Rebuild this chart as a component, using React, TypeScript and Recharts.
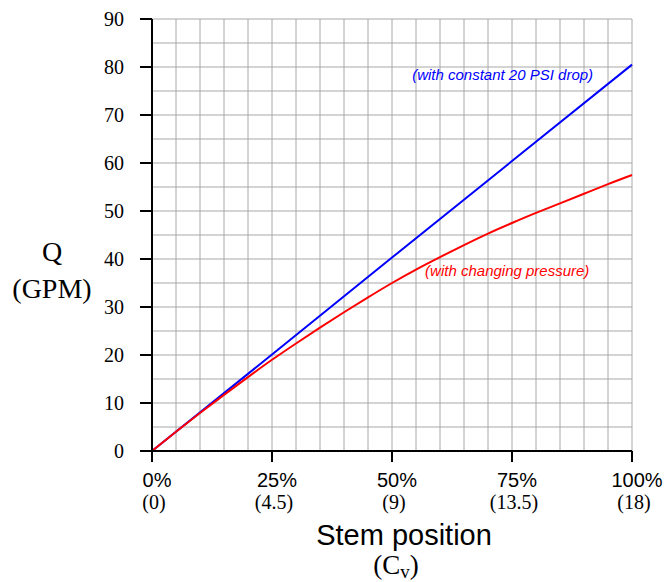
import { LineChart, Line, XAxis, YAxis, CartesianGrid, ReferenceDot } from 'recharts';

// stem position in percent, flow in GPM
const stemPct = [0, 5, 10, 15, 20, 25, 30, 35, 40, 45, 50, 55, 60, 65, 70, 75, 80, 85, 90, 95, 100];
const changingQ = [0, 4.0, 7.9, 11.7, 15.4, 19.0, 22.4, 25.7, 28.9, 32.0, 35.0, 37.8, 40.4, 42.9, 45.3, 47.5, 49.6, 51.6, 53.6, 55.6, 57.5];
const constantPct = [0, 25, 50, 75, 100];
const constantQ = [0, 20.1, 40.3, 60.4, 80.5];

const xTicks = [0, 5, 10, 15, 20, 25, 30, 35, 40, 45, 50, 55, 60, 65, 70, 75, 80, 85, 90, 95, 100];
const xMajor = [0, 25, 50, 75, 100];
const pctLabels = ['0%', '25%', '50%', '75%', '100%'];
const cvLabels = ['(0)', '(4.5)', '(9)', '(13.5)', '(18)'];
const yTicks = [0, 5, 10, 15, 20, 25, 30, 35, 40, 45, 50, 55, 60, 65, 70, 75, 80, 85, 90];
const yMajor = [0, 10, 20, 30, 40, 50, 60, 70, 80, 90];

const changingData = stemPct.map((x, i) => ({ x, q: changingQ[i] }));
const constantData = constantPct.map((x, i) => ({ x, q: constantQ[i] }));

const SANS = '"Liberation Sans", Arial, sans-serif';
const SERIF = '"Liberation Serif", "Times New Roman", serif';

function XTick(props: any) {
    const { x, y, payload } = props;
    const i = xMajor.indexOf(payload.value);
    if (i < 0) return <g />;
    return (
        <g>
            <line x1={x} x2={x} y1={y} y2={y + 11} stroke="#000" strokeWidth={2} />
            <text x={x + 5} y={y + 36} textAnchor="middle" fontFamily={SANS} fontSize={20} fill="#000">
                {pctLabels[i]}
            </text>
            <text x={x + 2} y={y + 58} textAnchor="middle" fontFamily={SERIF} fontSize={20} fill="#000">
                {cvLabels[i]}
            </text>
        </g>
    );
}

function YTick(props: any) {
    const { x, y, payload } = props;
    if (!yMajor.includes(payload.value)) return <g />;
    return (
        <g>
            <line x1={x - 12} x2={x} y1={y} y2={y} stroke="#000" strokeWidth={2} />
            <text x={x - 28} y={y + 7} textAnchor="end" fontFamily={SERIF} fontSize={20} fill="#000">
                {payload.value}
            </text>
        </g>
    );
}

function YTitle() {
    return (
        <g>
            <text x={52} y={261} textAnchor="middle" fontFamily={SERIF} fontSize={28} fill="#000">Q</text>
            <text x={52} y={298} textAnchor="middle" fontFamily={SERIF} fontSize={28} fill="#000">(GPM)</text>
        </g>
    );
}

function XTitle() {
    return (
        <g>
            <text x={404} y={545} textAnchor="middle" fontFamily={SANS} fontSize={29} fill="#000">Stem position</text>
            <text x={396} y={574} textAnchor="middle" fontFamily={SERIF} fontSize={27} fill="#000">
                (C<tspan fontSize={19} dy={4}>v</tspan><tspan dy={-4}>)</tspan>
            </text>
        </g>
    );
}

export default function App() {
    return (
        <div style={{ position: 'absolute', left: 0, top: 0, width: 665, height: 582, background: '#fff' }}>
            <LineChart width={665} height={582} margin={{ top: 19, right: 33, left: 0, bottom: 0 }}>
                <CartesianGrid stroke="#a8a8a8" strokeWidth={1} />
                <XAxis
                    dataKey="x"
                    type="number"
                    domain={[0, 100]}
                    ticks={xTicks}
                    interval={0}
                    height={131}
                    tickSize={0}
                    tickMargin={0}
                    tickLine={false}
                    axisLine={{ stroke: '#000', strokeWidth: 2 }}
                    tick={<XTick />}
                    label={<XTitle />}
                />
                <YAxis
                    type="number"
                    domain={[0, 90]}
                    ticks={yTicks}
                    interval={0}
                    width={152}
                    tickSize={0}
                    tickMargin={0}
                    tickLine={false}
                    axisLine={{ stroke: '#000', strokeWidth: 2 }}
                    tick={<YTick />}
                    label={<YTitle />}
                />
                <Line data={constantData} dataKey="q" type="linear" stroke="#0000ff" strokeWidth={2} dot={false} isAnimationActive={false} />
                <Line data={changingData} dataKey="q" type="natural" stroke="#ff0000" strokeWidth={2} dot={false} isAnimationActive={false} />
                <ReferenceDot
                    x={54.2}
                    y={78.3}
                    r={0}
                    fill="none"
                    stroke="none"
                    ifOverflow="visible"
                    label={{ value: '(with constant 20 PSI drop)', position: 'right', offset: 0, fill: '#0000ff', fontSize: 15, fontStyle: 'italic', fontFamily: SANS }}
                />
                <ReferenceDot
                    x={56.9}
                    y={37.5}
                    r={0}
                    fill="none"
                    stroke="none"
                    ifOverflow="visible"
                    label={{ value: '(with changing pressure)', position: 'right', offset: 0, fill: '#ff0000', fontSize: 15, fontStyle: 'italic', fontFamily: SANS }}
                />
            </LineChart>
        </div>
    );
}
